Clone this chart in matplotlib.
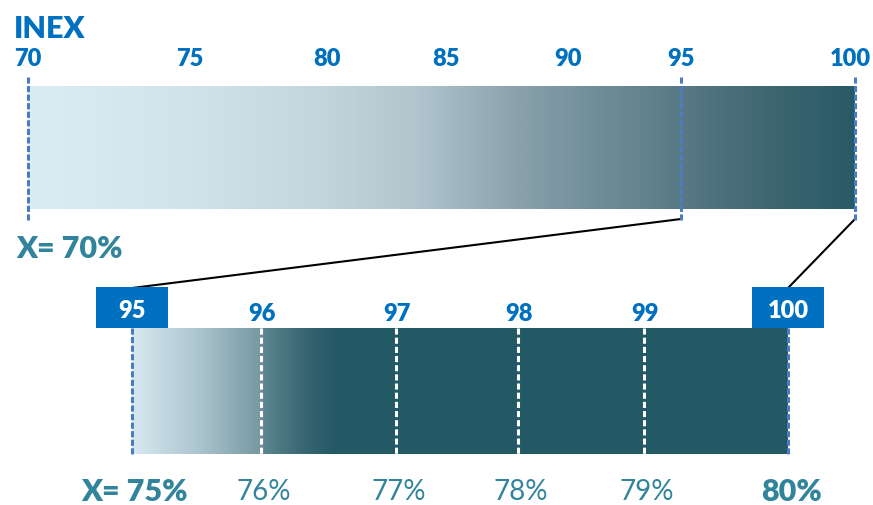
import numpy as np
import matplotlib
matplotlib.use("Agg")
import matplotlib.pyplot as plt
from matplotlib.colors import LinearSegmentedColormap
from matplotlib.patches import Rectangle

plt.rcParams['font.family'] = ['Lato', 'DejaVu Sans']

# ---- data ----
title = "INEX"
top_ticks = [70, 75, 80, 85, 90, 95, 100]
top_marked = [70, 95, 100]
zoom_ticks = [95, 96, 97, 98, 99, 100]
zoom_pct = [75, 76, 77, 78, 79, 80]
top_pct = 70

# ---- layout (pixel positions of tick values) ----
top_tick_px = [28, 190, 327, 446, 568, 681, 855]
zoom_tick_px = [132, 261, 396, 518, 644, 788]

BLUE = "#0070c0"
TEAL = "#31849b"
DASH_BLUE = "#4a7cc4"
HEAVY = 'heavy'


def top_x(v):
    return float(np.interp(v, top_ticks, top_tick_px))


def zoom_x(v):
    return float(np.interp(v, zoom_ticks, zoom_tick_px))


fig = plt.figure(figsize=(8.73, 5.06), dpi=100)
ax = fig.add_axes([0, 0, 1, 1])

# ---- top bar gradient ----
top_cmap = LinearSegmentedColormap.from_list("top", [
    (0.00, (218/255, 236/255, 244/255)),
    (0.20, (208/255, 227/255, 235/255)),
    (0.35, (195/255, 214/255, 221/255)),
    (0.47, (176/255, 197/255, 205/255)),
    (0.60, (135/255, 160/255, 170/255)),
    (0.70, (110/255, 140/255, 150/255)),
    (0.79, (88/255, 122/255, 133/255)),
    (0.90, (62/255, 102/255, 113/255)),
    (1.00, (40/255, 90/255, 102/255)),
])
grad = np.linspace(0, 1, 600)[None, :]
tx0, tx1 = top_x(top_ticks[0]), top_x(top_ticks[-1])
ax.imshow(grad, cmap=top_cmap, extent=(tx0, tx1, 210, 87), aspect='auto',
          interpolation='bilinear', zorder=1)

for v in top_marked:
    ax.plot([top_x(v), top_x(v)], [78, 221], color=DASH_BLUE, lw=2.2,
            linestyle=(0, (2.0, 0.8)), zorder=3)

ax.text(14, 38, title, fontsize=22, fontweight=HEAVY, color=BLUE,
        ha='left', va='baseline')
for v in top_ticks:
    ax.text(min(top_x(v), 850), 66, str(v), fontsize=17, fontweight=HEAVY,
            color=BLUE, ha='center', va='baseline')

ax.text(16, 258, f"X= {top_pct}%", fontsize=22, fontweight=HEAVY, color=TEAL,
        ha='left', va='baseline')

# ---- connector lines ----
ax.plot([top_x(95), zoom_x(95)], [220, 289], color='black', lw=1.5, zorder=2)
ax.plot([top_x(100), zoom_x(100) + 1], [220, 288], color='black', lw=1.5, zorder=2)

# ---- bottom (zoom) bar gradient ----
zx0, zx1 = zoom_x(zoom_ticks[0]), zoom_x(zoom_ticks[-1])
f96 = (zoom_x(96) - zx0) / (zx1 - zx0)
bot_cmap = LinearSegmentedColormap.from_list("bot", [
    (0.00, (214/255, 232/255, 240/255)),
    (f96 * 0.5, (172/255, 198/255, 207/255)),
    (f96 - 0.002, (118/255, 152/255, 162/255)),
    (f96 + 0.002, (92/255, 133/255, 143/255)),
    (f96 + 0.06, (58/255, 104/255, 116/255)),
    (f96 + 0.11, (35/255, 89/255, 101/255)),
    (1.00, (35/255, 89/255, 101/255)),
])
ax.imshow(grad, cmap=bot_cmap, extent=(zx0, zx1, 455, 329), aspect='auto',
          interpolation='bilinear', zorder=1)

for v in zoom_ticks[1:-1]:
    ax.plot([zoom_x(v), zoom_x(v)], [329, 455], color='white', lw=2.2,
            linestyle=(0, (2.0, 1.0)), zorder=3)
for v in (zoom_ticks[0], zoom_ticks[-1]):
    ax.plot([zoom_x(v), zoom_x(v)], [329, 455], color=DASH_BLUE, lw=2.2,
            linestyle=(0, (2.0, 0.8)), zorder=3)

# boxed end labels
for v in (zoom_ticks[0], zoom_ticks[-1]):
    cx = zoom_x(v)
    ax.add_patch(Rectangle((cx - 36, 288), 72, 41, facecolor=BLUE,
                           edgecolor='none', zorder=4))
    ax.text(cx, 318, str(v), fontsize=17, fontweight=HEAVY, color='white',
            ha='center', va='baseline', zorder=5)
for v in zoom_ticks[1:-1]:
    ax.text(zoom_x(v) + 1, 321, str(v), fontsize=17, fontweight=HEAVY,
            color=BLUE, ha='center', va='baseline')

# percentages below
for i, (v, p) in enumerate(zip(zoom_ticks, zoom_pct)):
    if i == 0:
        ax.text(zoom_x(v) + 2, 501, f"X= {p}%", fontsize=22, fontweight=HEAVY,
                color=TEAL, ha='center', va='baseline')
    elif i == len(zoom_ticks) - 1:
        ax.text(zoom_x(v) + 3, 501, f"{p}%", fontsize=22, fontweight=HEAVY,
                color=TEAL, ha='center', va='baseline')
    else:
        ax.text(zoom_x(v) + 3, 500, f"{p}%", fontsize=20, color=TEAL,
                ha='center', va='baseline')

ax.set_xlim(0, 873)
ax.set_ylim(506, 0)
ax.axis('off')
fig.savefig("out.png", dpi=100)
